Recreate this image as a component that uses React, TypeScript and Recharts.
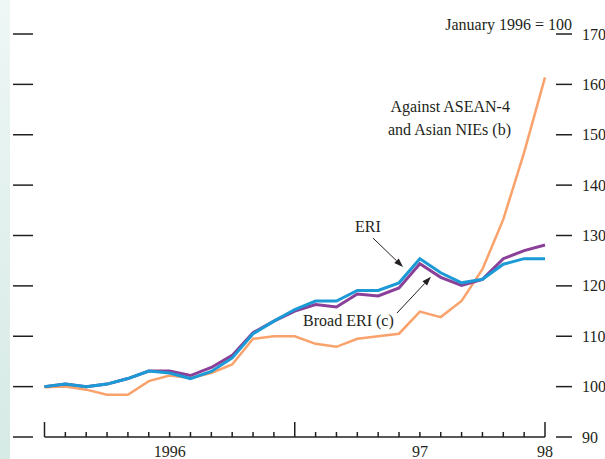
// Effective exchange rate indices, January 1996 = 100
import { LineChart, Line, XAxis, YAxis, ReferenceLine, ReferenceDot } from 'recharts';

const monthIndex = [0, 1, 2, 3, 4, 5, 6, 7, 8, 9, 10, 11, 12, 13, 14, 15, 16, 17, 18, 19, 20, 21, 22, 23, 24];
const xLabels = ['', '', '', '', '', '', '1996', '', '', '', '', '', '', '', '', '', '', '', '97', '', '', '', '', '', '98'];
const yTicks = [90, 100, 110, 120, 130, 140, 150, 160, 170];

const eri = [100.0, 100.5, 100.0, 100.5, 101.6, 103.1, 102.7, 101.6, 103.0, 105.7, 110.5, 113.0, 115.3, 117.0, 117.0, 119.1, 119.1, 120.6, 125.4, 122.6, 120.6, 121.3, 124.3, 125.4, 125.4];
const broadEri = [100.0, 100.5, 100.0, 100.5, 101.6, 103.1, 103.1, 102.2, 103.8, 106.2, 110.7, 113.0, 115.0, 116.3, 115.8, 118.4, 118.0, 119.6, 124.4, 121.7, 120.1, 121.3, 125.4, 127.0, 128.1];
const asean = [99.9, 100.0, 99.4, 98.4, 98.4, 101.1, 102.2, 101.7, 102.7, 104.4, 109.5, 110.0, 110.0, 108.5, 107.9, 109.5, 110.0, 110.5, 114.9, 113.8, 117.0, 123.3, 133.2, 146.5, 161.4];

const data = monthIndex.map((i, k) => ({ i, eri: eri[k], broad: broadEri[k], asean: asean[k] }));

const FONT = '"Liberation Serif", "Times New Roman", serif';
const INK = '#231f20';

// arrows and labels, anchored in data coordinates
const arrows = [
  { from: { x: 15.75, y: 129.5 }, to: { x: 17.19, y: 123.75 } },
  { from: { x: 16.9, y: 114.6 }, to: { x: 18.53, y: 121.8 } },
];
const notes = [
  { x: 14.89, y: 130.7, text: 'ERI', anchor: 'start' },
  { x: 12.4, y: 112.0, text: 'Broad ERI (c)', anchor: 'start' },
  { x: 22.32, y: 154.5, text: 'Against ASEAN-4', anchor: 'end' },
  { x: 22.37, y: 150.0, text: 'and Asian NIEs (b)', anchor: 'end' },
];

function Arrow(p: any) {
  const { x1, y1, x2, y2 } = p;
  const ang = Math.atan2(y2 - y1, x2 - x1);
  const len = 9, half = 3.2;
  const bx = x2 - len * Math.cos(ang), by = y2 - len * Math.sin(ang);
  const nx = -Math.sin(ang) * half, ny = Math.cos(ang) * half;
  return (
    <g>
      <line x1={x1} y1={y1} x2={bx} y2={by} stroke={INK} strokeWidth={1} />
      <polygon points={`${x2},${y2} ${bx + nx},${by + ny} ${bx - nx},${by - ny}`} fill={INK} />
    </g>
  );
}

function XTick(p: any) {
  const { x, y, payload } = p;
  const idx = payload.value as number;
  const big = idx % 12 === 0;
  return (
    <g>
      <line x1={x} x2={x} y1={y} y2={y - (big ? 15 : 5)} stroke={INK} strokeWidth={1.5} />
      {xLabels[idx] && (
        <text x={x} y={y + 20} textAnchor="middle" fontFamily={FONT} fontSize={16} fill={INK}>{xLabels[idx]}</text>
      )}
    </g>
  );
}

function YTick(p: any) {
  const { x, y, payload } = p;
  return (
    <g>
      <line x1={13} x2={33} y1={y} y2={y} stroke={INK} strokeWidth={1.5} />
      <line x1={x + 11} x2={x + 27} y1={y} y2={y} stroke={INK} strokeWidth={1.5} />
      <text x={x + 37} y={y + 5.5} fontFamily={FONT} fontSize={16} fill={INK}>{payload.value}</text>
    </g>
  );
}

export default function App() {
  return (
    <div style={{ position: 'absolute', left: 0, top: 0, width: 605, height: 459, background: '#fff', overflow: 'hidden' }}>
      <div style={{ position: 'absolute', left: 0, top: 0, width: 10, height: 459, background: 'linear-gradient(#eef7f5, #d6eae6)' }} />
      <LineChart width={605} height={459} data={data} margin={{ top: 34, right: 0, bottom: 0, left: 44.5 }}>
        <XAxis dataKey="i" type="number" domain={[0, 24]} ticks={monthIndex} interval={0} height={22}
          tickLine={false} tickSize={0} tickMargin={0} tick={<XTick />}
          axisLine={{ stroke: INK, strokeWidth: 1.5 }} />
        <YAxis orientation="right" domain={[90, 170]} ticks={yTicks} width={60} axisLine={false}
          tickLine={false} tickSize={0} tickMargin={0} tick={<YTick />} />
        <Line dataKey="asean" stroke="#f9a26c" strokeWidth={2.5} dot={false} isAnimationActive={false} />
        <Line dataKey="broad" stroke="#8a3f98" strokeWidth={3} dot={false} isAnimationActive={false} />
        <Line dataKey="eri" stroke="#1b9ad6" strokeWidth={3} dot={false} isAnimationActive={false} />
        {arrows.map((a, k) => (
          <ReferenceLine key={'a' + k} segment={[a.from, a.to]} shape={<Arrow />} />
        ))}
        {notes.map((n, k) => (
          <ReferenceDot key={'n' + k} x={n.x} y={n.y} r={0}
            shape={(p: any) => (
              <text x={p.cx} y={p.cy} textAnchor={n.anchor} fontFamily={FONT} fontSize={16} fill={INK}>{n.text}</text>
            )} />
        ))}
      </LineChart>
      <svg width={605} height={459} style={{ position: 'absolute', left: 0, top: 0, pointerEvents: 'none' }}>
        <text x={572} y={30} textAnchor="end" fontFamily={FONT} fontSize={16} fill={INK}>January 1996 = 100</text>
      </svg>
    </div>
  );
}
